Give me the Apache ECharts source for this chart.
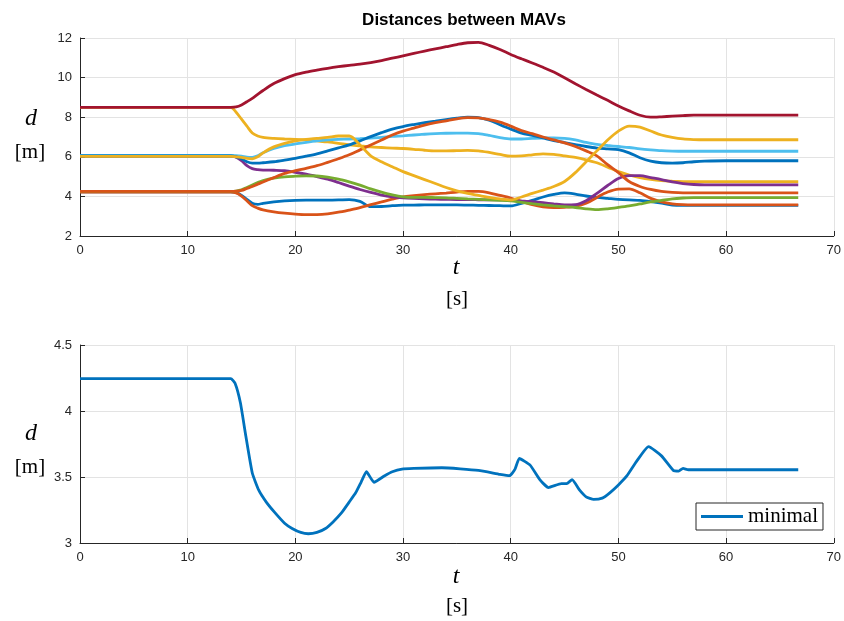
<!DOCTYPE html>
<html>
<head>
<meta charset="utf-8">
<script src="https://cdn.jsdelivr.net/npm/echarts@6/dist/echarts.min.js"></script>
<style>
html,body{margin:0;padding:0;background:#fff;}
#chart{width:844px;height:621px;}
</style>
</head>
<body>
<div id="chart"></div>
<script>
// ---- data ----
const T = [0,14,14.5,15,15.5,16,16.5,17,18,19,20,21,22,23,24,25,26,27,28,29,30,31,32,33,34,35,36,37,38,39,40,41,42,43,44,45,46,47,48,49,50,51,52,53,54,55,56,57,58,60,66.7];

const dBlue2 = [4.23,4.23,4.2,4.05,3.85,3.65,3.6,3.65,
  3.72,3.77,3.8,3.81,3.81,3.81,3.82,3.84,3.75,3.48,
  3.49,3.53,3.56,3.56,3.57,3.57,3.57,3.57,3.56,3.55,
  3.54,3.53,3.52,3.65,3.8,3.97,4.1,4.18,4.12,4.02,
  3.95,3.9,3.85,3.82,3.8,3.74,3.66,3.56,3.55,3.55,3.55,
  3.55,3.55];
const dOrange2 = [4.22,4.22,4.18,4.02,3.78,3.53,3.41,3.32,
  3.22,3.15,3.1,3.075,3.08,3.12,3.2,3.31,3.43,3.58,
  3.72,3.86,3.98,4.04,4.09,4.13,4.17,4.22,4.25,4.25,
  4.18,4.05,3.92,3.75,3.58,3.47,3.43,3.45,3.5,3.65,
  3.95,4.22,4.37,4.38,4.18,3.9,3.72,3.62,3.58,3.57,3.57,
  3.57,3.57];
const dYellow1 = [8.5,8.5,8.25,7.9,7.55,7.2,7.05,6.98,
  6.93,6.9,6.88,6.85,6.8,6.75,6.68,6.6,6.55,6.5,
  6.47,6.44,6.42,6.38,6.33,6.3,6.3,6.31,6.32,6.3,
  6.22,6.12,6.03,6.05,6.1,6.15,6.12,6.05,5.97,5.85,
  5.7,5.48,5.25,5.08,4.95,4.86,4.8,4.77,4.75,4.74,4.74,
  4.74,4.74];
const dPurple = [6.03,6.03,5.98,5.8,5.55,5.4,5.35,5.33,
  5.32,5.3,5.22,5.12,5.0,4.87,4.7,4.52,4.35,4.2,
  4.07,3.98,3.93,3.9,3.88,3.86,3.85,3.84,3.84,3.83,
  3.82,3.82,3.81,3.77,3.73,3.68,3.62,3.57,3.58,3.78,
  4.15,4.55,4.9,5.05,5.05,4.95,4.85,4.73,4.65,4.6,4.58,
  4.58,4.58];
const dGreen = [4.25,4.25,4.27,4.33,4.45,4.58,4.7,4.8,
  4.92,4.99,5.02,5.04,5.03,4.97,4.87,4.73,4.57,4.38,
  4.22,4.08,3.98,3.95,3.95,3.94,3.93,3.9,3.87,3.85,
  3.82,3.8,3.77,3.7,3.63,3.57,3.52,3.48,3.44,3.37,
  3.33,3.37,3.44,3.52,3.62,3.72,3.8,3.88,3.92,3.94,3.94,
  3.94,3.94];
const dLightBlue = [6.07,6.07,6.06,6.03,5.98,5.97,6.05,6.2,
  6.42,6.56,6.65,6.73,6.8,6.85,6.88,6.9,6.92,6.95,
  6.98,7.03,7.06,7.1,7.14,7.17,7.19,7.2,7.2,7.17,
  7.08,6.97,6.9,6.9,6.93,6.95,6.95,6.93,6.85,6.73,
  6.63,6.57,6.52,6.47,6.4,6.35,6.31,6.29,6.28,6.28,6.28,
  6.28,6.28];
const dDarkRed = [8.5,8.5,8.52,8.62,8.78,8.95,9.15,9.35,
  9.7,9.95,10.15,10.28,10.38,10.47,10.55,10.62,10.68,10.76,
  10.86,10.98,11.1,11.22,11.34,11.45,11.56,11.67,11.76,11.78,
  11.63,11.42,11.17,10.95,10.74,10.52,10.28,9.99,9.69,9.4,
  9.12,8.85,8.57,8.32,8.1,8.0,8.02,8.05,8.08,8.1,8.1,
  8.1,8.1];
const dBlue1 = [6.04,6.04,6.0,5.9,5.75,5.68,5.68,5.7,
  5.75,5.83,5.92,6.03,6.15,6.3,6.45,6.6,6.8,7.02,
  7.22,7.4,7.53,7.63,7.72,7.8,7.88,7.95,8.0,7.98,
  7.85,7.62,7.4,7.2,7.08,6.95,6.82,6.72,6.62,6.52,
  6.44,6.4,6.36,6.2,5.95,5.78,5.7,5.68,5.7,5.75,5.78,
  5.8,5.8];
const dOrange1 = [4.25,4.25,4.26,4.3,4.4,4.5,4.62,4.73,
  4.95,5.16,5.3,5.42,5.55,5.72,5.9,6.1,6.35,6.6,
  6.85,7.1,7.3,7.45,7.6,7.72,7.82,7.92,7.98,7.97,
  7.88,7.75,7.55,7.32,7.17,7.0,6.85,6.7,6.52,6.3,
  6.05,5.6,5.2,4.75,4.5,4.35,4.25,4.2,4.18,4.18,4.18,
  4.18,4.18];
const dYellow2 = [6.02,6.02,6.0,5.97,5.92,5.9,6.0,6.2,
  6.5,6.68,6.8,6.88,6.93,6.98,7.05,7.05,6.6,6.05,
  5.75,5.5,5.25,5.05,4.85,4.65,4.45,4.28,4.15,4.05,
  3.95,3.87,3.82,3.97,4.15,4.32,4.5,4.75,5.2,5.75,
  6.3,6.85,7.3,7.55,7.5,7.3,7.1,6.98,6.9,6.87,6.86,
  6.86,6.86];

const minT = [0,14.0,14.4,14.9,15.4,16.0,16.6,17.3,18.1,19.0,19.7,20.5,21.2,22.0,22.8,23.5,24.3,25.0,25.6,26.1,26.6,27.3,28.3,29.0,29.9,31.0,33.6,37.0,39.0,39.9,40.4,40.8,41.8,42.7,43.5,44.7,45.2,45.7,46.4,47.0,47.7,48.5,49.2,50.0,50.8,51.7,52.8,54.0,55.1,55.6,56.0,56.5,66.7];
const minD = [4.245,4.245,4.21,4.06,3.81,3.53,3.40,3.31,3.23,3.15,3.11,3.08,3.07,3.08,3.11,3.16,3.23,3.31,3.38,3.46,3.54,3.46,3.51,3.54,3.56,3.565,3.57,3.55,3.52,3.51,3.56,3.64,3.59,3.48,3.42,3.45,3.45,3.48,3.40,3.35,3.33,3.34,3.38,3.44,3.51,3.62,3.73,3.66,3.55,3.545,3.565,3.555,3.555];

const topSeries = [
  {d: dBlue2, c: '#0072BD'},
  {d: dOrange2, c: '#D95319'},
  {d: dYellow1, c: '#EDB120'},
  {d: dPurple, c: '#7E2F8E'},
  {d: dGreen, c: '#77AC30'},
  {d: dLightBlue, c: '#4DBEEE'},
  {d: dDarkRed, c: '#A2142F'},
  {d: dBlue1, c: '#0072BD'},
  {d: dOrange1, c: '#D95319'},
  {d: dYellow2, c: '#EDB120'}
];
const xTicks = {min: 0, max: 70, interval: 10};
const topY = {min: 2, max: 12, interval: 2};
const botY = {min: 3, max: 4.5, interval: 0.5};

// ---- chart ----
const axisColor = '#262626';
const gridColor = '#e3e3e3';
const tickFont = {fontFamily: 'Liberation Sans, Arial, sans-serif', fontSize: 13, color: axisColor};

function xAxisCfg(gi){
  return {
    type: 'value', gridIndex: gi, min: xTicks.min, max: xTicks.max, interval: xTicks.interval,
    axisLine: {show: true, onZero: false, lineStyle: {color: axisColor, width: 1}},
    axisTick: {show: true, inside: true, length: 5, lineStyle: {color: axisColor}},
    axisLabel: Object.assign({margin: 8}, tickFont),
    splitLine: {show: true, lineStyle: {color: gridColor, width: 1}}
  };
}
function yAxisCfg(gi, r){
  return {
    type: 'value', gridIndex: gi, min: r.min, max: r.max, interval: r.interval,
    axisLine: {show: true, onZero: false, lineStyle: {color: axisColor, width: 1}},
    axisTick: {show: true, inside: true, length: 5, lineStyle: {color: axisColor}},
    axisLabel: Object.assign({margin: 8}, tickFont),
    splitLine: {show: true, lineStyle: {color: gridColor, width: 1}}
  };
}

const series = topSeries.map((s, i) => ({
  type: 'line', xAxisIndex: 0, yAxisIndex: 0, showSymbol: false, symbol: 'none',
  smooth: 0.3, silent: true, animation: false,
  lineStyle: {color: s.c, width: 2.8}, itemStyle: {color: s.c}, z: 2 + i * 0.01,
  data: T.map((t, k) => [t, s.d[k]])
}));
series.push({
  name: 'minimal', type: 'line', xAxisIndex: 1, yAxisIndex: 1, symbol: 'none', showSymbol: false,
  smooth: 0.15, animation: false, silent: true,
  lineStyle: {color: '#0072BD', width: 2.8}, itemStyle: {color: '#0072BD'},
  data: minT.map((t, k) => [t, minD[k]])
});

const serif = 'Liberation Serif, DejaVu Serif, serif';
function txt(x, y, text, size, italic, bold, fam){
  return {type: 'text', x: x, y: y, silent: true, style: {
    text: text, fontSize: size, fontFamily: fam || serif, fontStyle: italic ? 'italic' : 'normal',
    fontWeight: bold ? 'bold' : 'normal', fill: '#000', align: 'center', verticalAlign: 'middle'}};
}

const chart = echarts.init(document.getElementById('chart'), null, {renderer: 'canvas'});
chart.setOption({
  animation: false,
  backgroundColor: '#fff',
  grid: [
    {left: 80, right: 9, top: 38, height: 198},
    {left: 80, right: 9, top: 345, height: 198}
  ],
  xAxis: [xAxisCfg(0), xAxisCfg(1)],
  yAxis: [yAxisCfg(0, topY), yAxisCfg(1, botY)],
  legend: {
    data: ['minimal'], left: 696, top: 503, orient: 'horizontal',
    icon: 'rect', itemWidth: 42, itemHeight: 3,
    padding: [3, 5], borderColor: axisColor, borderWidth: 1, backgroundColor: '#fff',
    textStyle: {fontFamily: serif, fontSize: 21, color: '#000', lineHeight: 21}
  },
  graphic: [
    txt(464, 20, 'Distances between MAVs', 17, false, true, 'Liberation Sans, Arial, sans-serif'),
    txt(31, 119, 'd', 24, true),
    txt(30, 152, '[m]', 21, false),
    txt(456, 268, 't', 24, true),
    txt(457, 299, '[s]', 21, false),
    txt(31, 434, 'd', 24, true),
    txt(30, 467, '[m]', 21, false),
    txt(456, 577, 't', 24, true),
    txt(457, 606, '[s]', 21, false)
  ],
  series: series
});
</script>
</body>
</html>
